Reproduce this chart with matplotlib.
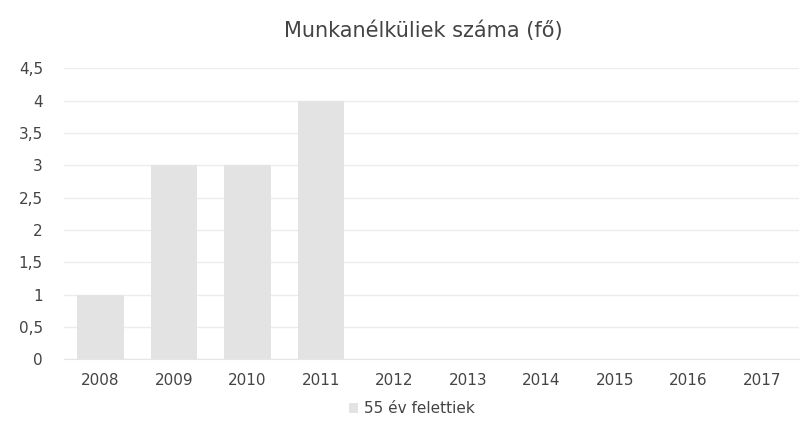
import matplotlib
matplotlib.use('Agg')
import matplotlib.pyplot as plt
from matplotlib.ticker import FuncFormatter

years = ['2008', '2009', '2010', '2011', '2012', '2013', '2014', '2015', '2016', '2017']
over_55 = [1, 3, 3, 4, 0, 0, 0, 0, 0, 0]
series_name = '55 év felettiek'
title = 'Munkanélküliek száma (fő)'

plt.rcParams['font.family'] = ['DejaVu Sans']
text_color = '#444444'

fig = plt.figure(figsize=(8.07, 4.37), dpi=100)
ax = fig.add_axes([0.079, 0.178, 0.911, 0.666])

x = list(range(len(years)))
ax.bar(x, over_55, width=0.63, color='#e3e3e3', label=series_name, zorder=2)

ax.set_xlim(-0.5, len(years) - 0.5)
ax.set_ylim(0, 4.5)
ax.set_yticks([i * 0.5 for i in range(10)])
ax.yaxis.set_major_formatter(FuncFormatter(lambda v, p: f'{v:g}'.replace('.', ',')))
ax.set_xticks(x)
ax.set_xticklabels(years)

ax.grid(axis='y', color='#ececec', linewidth=1, zorder=0)
for s in ['top', 'right', 'left']:
    ax.spines[s].set_visible(False)
ax.spines['bottom'].set_color('#e6e6e6')
ax.tick_params(axis='both', length=0, colors=text_color, labelsize=11)
ax.tick_params(axis='y', pad=15)
ax.tick_params(axis='x', pad=10)

fig.text(0.525, 0.93, title, ha='center', va='center', fontsize=15, color=text_color)
fig.legend(loc='center', bbox_to_anchor=(0.51, 0.065), frameon=False,
           fontsize=11, labelcolor=text_color, handlelength=0.6, handleheight=0.6,
           handletextpad=0.4)

fig.savefig('out.png', dpi=100)
